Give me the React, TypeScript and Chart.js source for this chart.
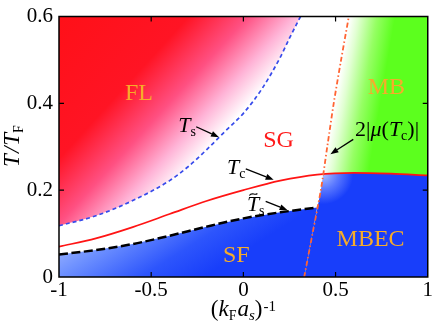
import React, { useEffect, useRef } from 'react';
import { Chart, registerables } from 'chart.js';

Chart.register(...registerables);

const FONT = "'Liberation Serif', 'Times New Roman', Times, serif";

// T_s (blue dashed) – boundary of the FL region
const TS_X = [-1, -0.8, -0.6, -0.4, -0.3, -0.2, -0.1, 0, 0.1, 0.2, 0.25, 0.31];
const TS_T = [0.118, 0.141, 0.176, 0.222, 0.254, 0.293, 0.335, 0.377, 0.433, 0.506, 0.55, 0.6];
// T_c (red solid)
const TC_X = [-1, -0.8, -0.6, -0.4, -0.2, 0, 0.2, 0.4, 0.6, 0.8, 1];
const TC_T = [0.07, 0.089, 0.115, 0.145, 0.175, 0.2, 0.222, 0.236, 0.24, 0.238, 0.234];
// tilde T_s (black dashed) – top of SF region
const TST_X = [-1, -0.8, -0.6, -0.4, -0.2, 0, 0.2, 0.4];
const TST_T = [0.052, 0.062, 0.076, 0.095, 0.116, 0.135, 0.149, 0.16];
// 2|mu(T_c)| (orange dash-dot)
const MU_T = [0, 0.1, 0.2, 0.3, 0.4, 0.5, 0.6];
const MU_X = [0.33, 0.375, 0.42, 0.455, 0.49, 0.53, 0.572];

const X_TICKS = [-1, -0.5, 0, 0.5, 1];
const X_LABELS = ['-1', '-0.5', '0', '0.5', '1'];
const Y_TICKS = [0, 0.2, 0.4, 0.6];
const Y_LABELS = ['0', '0.2', '0.4', '0.6'];

const REGION_NAMES = ['FL', 'SG', 'MB', 'MBEC', 'SF'];
const REGION_X = [-0.566, 0.191, 0.776, 0.69, -0.038];
const REGION_T = [0.423, 0.315, 0.435, 0.086, 0.048];
const REGION_COLORS = ['#F6AC2A', '#FF1A1A', '#F6AC2A', '#F6AC2A', '#F6AC2A'];

const BLUE = 'rgb(24,62,250)';
const GREEN = 'rgb(92,255,30)';

function interp(xs: number[], ys: number[], x: number) {
  if (x <= xs[0]) return ys[0];
  for (let i = 0; i < xs.length - 1; i++) {
    if (x <= xs[i + 1]) {
      const f = (x - xs[i]) / (xs[i + 1] - xs[i]);
      return ys[i] + f * (ys[i + 1] - ys[i]);
    }
  }
  return ys[ys.length - 1];
}

function crossing() {
  for (let i = 0; i < MU_T.length - 1; i++) {
    const d0 = MU_T[i] - interp(TC_X, TC_T, MU_X[i]);
    const d1 = MU_T[i + 1] - interp(TC_X, TC_T, MU_X[i + 1]);
    if (d0 <= 0 && d1 > 0) {
      let a = 0, b = 1, x = MU_X[i], t = MU_T[i];
      for (let k = 0; k < 40; k++) {
        const m = (a + b) / 2;
        x = MU_X[i] + m * (MU_X[i + 1] - MU_X[i]);
        t = MU_T[i] + m * (MU_T[i + 1] - MU_T[i]);
        if (t - interp(TC_X, TC_T, x) <= 0) a = m; else b = m;
      }
      return { x, y: t };
    }
  }
  return { x: 0.43, y: 0.237 };
}

const pts = (xs: number[], ys: number[]) => xs.map((x, i) => ({ x, y: ys[i] }));

function buildPolys() {
  const C = crossing();
  const mu = pts(MU_X, MU_T);
  const tc = pts(TC_X, TC_T);
  const mb = [C, ...mu.filter((p) => p.y > C.y), { x: 1, y: 0.6 }, ...tc.filter((p) => p.x > C.x).reverse()];
  const mbec = [C, ...tc.filter((p) => p.x > C.x), { x: 1, y: 0 }, ...mu.filter((p) => p.y < C.y)];
  const tEnd = TST_T[TST_T.length - 1];
  const sf = [
    ...pts(TST_X, TST_T),
    { x: interp(MU_T, MU_X, tEnd), y: tEnd },
    ...mu.filter((p) => p.y < tEnd).reverse(),
    { x: -1, y: 0 },
  ];
  return { C, mb, mbec, sf };
}

type Piece = { t: string; size: number; italic?: boolean; dy?: number; dx?: number };

function richWidth(ctx: CanvasRenderingContext2D, pieces: Piece[]) {
  let w = 0;
  for (const p of pieces) {
    ctx.font = `${p.italic ? 'italic ' : ''}${p.size}px ${FONT}`;
    w += ctx.measureText(p.t).width + (p.dx || 0);
  }
  return w;
}

function drawRich(ctx: CanvasRenderingContext2D, x: number, y: number, pieces: Piece[], color: string) {
  let cx = x;
  ctx.fillStyle = color;
  ctx.textAlign = 'left';
  ctx.textBaseline = 'alphabetic';
  for (const p of pieces) {
    ctx.font = `${p.italic ? 'italic ' : ''}${p.size}px ${FONT}`;
    cx += p.dx || 0;
    ctx.fillText(p.t, cx, y + (p.dy || 0));
    cx += ctx.measureText(p.t).width;
  }
}

function arrow(ctx: CanvasRenderingContext2D, x0: number, y0: number, x1: number, y1: number) {
  const ang = Math.atan2(y1 - y0, x1 - x0);
  const hl = 8, hw = 3;
  const bx = x1 - hl * Math.cos(ang), by = y1 - hl * Math.sin(ang);
  ctx.strokeStyle = '#000';
  ctx.fillStyle = '#000';
  ctx.lineWidth = 1.3;
  ctx.setLineDash([]);
  ctx.beginPath();
  ctx.moveTo(x0, y0);
  ctx.lineTo(bx, by);
  ctx.stroke();
  ctx.beginPath();
  ctx.moveTo(x1, y1);
  ctx.lineTo(bx + hw * Math.sin(ang), by - hw * Math.cos(ang));
  ctx.lineTo(bx - hw * Math.sin(ang), by + hw * Math.cos(ang));
  ctx.closePath();
  ctx.fill();
}

const decor = {
  id: 'decor',
  afterDatasetsDraw(chart: any) {
    const { ctx, chartArea: a, scales } = chart;
    const X = (v: number) => scales.x.getPixelForValue(v);
    const Y = (v: number) => scales.y.getPixelForValue(v);
    ctx.save();
    ctx.setLineDash([]);
    ctx.strokeStyle = '#000';
    ctx.lineWidth = 1.5;
    ctx.strokeRect(a.left, a.top, a.right - a.left, a.bottom - a.top);
    ctx.lineWidth = 1.2;
    ctx.beginPath();
    X_TICKS.slice(1, -1).forEach((v) => {
      const px = X(v);
      ctx.moveTo(px, a.bottom); ctx.lineTo(px, a.bottom - 5);
      ctx.moveTo(px, a.top); ctx.lineTo(px, a.top + 5);
    });
    Y_TICKS.slice(1, -1).forEach((v) => {
      const py = Y(v);
      ctx.moveTo(a.left, py); ctx.lineTo(a.left + 5, py);
      ctx.moveTo(a.right, py); ctx.lineTo(a.right - 5, py);
    });
    ctx.stroke();

    ctx.textAlign = 'center';
    ctx.textBaseline = 'middle';
    ctx.font = `24px ${FONT}`;
    REGION_NAMES.forEach((n, i) => {
      ctx.fillStyle = REGION_COLORS[i];
      ctx.fillText(n, X(REGION_X[i]), Y(REGION_T[i]));
    });

    drawRich(ctx, X(-0.353), Y(0.333), [
      { t: 'T', size: 22, italic: true },
      { t: 's', size: 14, dy: 4 },
    ], '#000');
    arrow(ctx, X(-0.256), Y(0.346), X(-0.132), Y(0.322));

    drawRich(ctx, X(-0.089), Y(0.238), [
      { t: 'T', size: 22, italic: true },
      { t: 'c', size: 14, dy: 4 },
    ], '#000');
    arrow(ctx, X(0.013), Y(0.249), X(0.164), Y(0.224));

    const tx = X(0.019), ty = Y(0.152);
    drawRich(ctx, tx, ty, [
      { t: 'T', size: 22, italic: true },
      { t: 's', size: 14, dy: 4 },
    ], '#000');
    ctx.strokeStyle = '#000';
    ctx.lineWidth = 1.1;
    ctx.beginPath();
    ctx.moveTo(tx + 2.5, ty - 15.5);
    ctx.bezierCurveTo(tx + 5, ty - 19.5, tx + 8, ty - 15, tx + 10.5, ty - 17.5);
    ctx.stroke();
    arrow(ctx, X(0.121), Y(0.174), X(0.24), Y(0.154));

    drawRich(ctx, X(0.606), Y(0.324), [
      { t: '2|', size: 22 },
      { t: 'μ', size: 22, italic: true },
      { t: '(', size: 22 },
      { t: 'T', size: 22, italic: true },
      { t: 'c', size: 14, dy: 4 },
      { t: ')|', size: 22 },
    ], '#000');
    arrow(ctx, X(0.596), Y(0.317), X(0.472), Y(0.283));

    const xt: Piece[] = [
      { t: '(', size: 23 },
      { t: 'k', size: 23, italic: true },
      { t: 'F', size: 14, dy: 4 },
      { t: 'a', size: 23, italic: true, dx: 1 },
      { t: 's', size: 15, italic: true, dy: 4 },
      { t: ')', size: 23 },
      { t: '-1', size: 15, dy: -5, dx: 1 },
    ];
    const xw = richWidth(ctx, xt);
    drawRich(ctx, (a.left + a.right) / 2 - xw / 2, 316, xt, '#000');

    const yt: Piece[] = [
      { t: 'T', size: 23, italic: true },
      { t: '/', size: 23, italic: true, dx: 1 },
      { t: 'T', size: 23, italic: true, dx: 1 },
      { t: 'F', size: 14, dy: 4 },
    ];
    const yw = richWidth(ctx, yt);
    ctx.save();
    ctx.translate(19, 146);
    ctx.rotate(-Math.PI / 2);
    drawRich(ctx, -yw / 2, 0, yt, '#000');
    ctx.restore();

    ctx.restore();
  },
};

function px(c: any, x: number, y: number) {
  const s = c.chart && c.chart.scales;
  if (!s || !s.x || !s.y) return null;
  const a = s.x.getPixelForValue(x), b = s.y.getPixelForValue(y);
  if (!isFinite(a) || !isFinite(b)) return null;
  return [a, b];
}

function flFill(c: any) {
  const p0 = px(c, -1, 0.6), p1 = px(c, -0.2, 0.29);
  if (!p0 || !p1) return 'rgb(255,16,24)';
  const g = c.chart.ctx.createLinearGradient(p0[0], p0[1], p1[0], p1[1]);
  g.addColorStop(0, 'rgb(255,16,24)');
  g.addColorStop(0.48, 'rgb(255,20,36)');
  g.addColorStop(0.7, 'rgb(255,80,130)');
  g.addColorStop(0.87, 'rgb(255,180,215)');
  g.addColorStop(1, 'rgb(255,255,255)');
  return g;
}

function mbFill(c: any) {
  const p0 = px(c, MU_X[0], MU_T[0]);
  const p1 = px(c, MU_X[MU_X.length - 1], MU_T[MU_T.length - 1]);
  const ps = px(c, interp(MU_T, MU_X, 0.3), 0.3);
  if (!p0 || !p1 || !ps) return GREEN;
  const L = Math.hypot(p1[0] - p0[0], p1[1] - p0[1]);
  const nx = -(p1[1] - p0[1]) / L, ny = (p1[0] - p0[0]) / L;
  const w = 45;
  const g = c.chart.ctx.createLinearGradient(ps[0], ps[1], ps[0] + nx * w, ps[1] + ny * w);
  g.addColorStop(0, 'rgb(255,255,255)');
  g.addColorStop(0.2, 'rgb(225,255,210)');
  g.addColorStop(0.6, 'rgb(150,255,100)');
  g.addColorStop(1, GREEN);
  return g;
}

function mbecFill(c: any) {
  const C = crossing();
  const p = px(c, C.x, C.y);
  if (!p) return BLUE;
  const g = c.chart.ctx.createRadialGradient(p[0], p[1], 0, p[0], p[1], 30);
  g.addColorStop(0, 'rgb(170,190,255)');
  g.addColorStop(0.5, 'rgb(90,120,255)');
  g.addColorStop(1, BLUE);
  return g;
}

function sfFill(c: any) {
  const p = px(c, -1, 0.095);
  if (!p) return BLUE;
  const g = c.chart.ctx.createLinearGradient(p[0], p[1], p[0] + 60, p[1] + 95);
  g.addColorStop(0, 'rgb(165,188,255)');
  g.addColorStop(0.3, 'rgb(110,145,255)');
  g.addColorStop(0.7, 'rgb(45,85,252)');
  g.addColorStop(1, BLUE);
  return g;
}

export default function App() {
  const ref = useRef<HTMLCanvasElement>(null);
  useEffect(() => {
    document.body.style.margin = '0';
    const canvas = ref.current;
    if (!canvas) return;
    const { mb, mbec, sf } = buildPolys();
    const poly = (data: any[], bg: any) => ({
      data,
      fill: 'shape',
      backgroundColor: bg,
      borderColor: 'rgba(0,0,0,0)',
      borderWidth: 0,
      pointRadius: 0,
      tension: 0,
      order: 10,
    });
    const chart = new Chart(canvas, {
      type: 'line',
      data: {
        datasets: [
          {
            data: pts(TS_X, TS_T),
            borderColor: 'rgb(55,75,235)',
            borderWidth: 1.7,
            borderDash: [4, 3],
            fill: 'end',
            backgroundColor: flFill,
            pointRadius: 0,
            cubicInterpolationMode: 'monotone',
            order: 3,
          },
          {
            data: pts(TC_X, TC_T),
            borderColor: 'rgb(255,20,20)',
            borderWidth: 1.7,
            fill: false,
            pointRadius: 0,
            cubicInterpolationMode: 'monotone',
            order: 1,
          },
          {
            data: pts(TST_X, TST_T),
            borderColor: '#000',
            borderWidth: 2.5,
            borderDash: [9, 3.5],
            fill: false,
            pointRadius: 0,
            cubicInterpolationMode: 'monotone',
            order: 2,
          },
          {
            data: pts(MU_X, MU_T),
            borderColor: 'rgb(255,100,50)',
            borderWidth: 1.8,
            borderDash: [5, 2.5, 1.5, 2.5],
            fill: false,
            pointRadius: 0,
            tension: 0.3,
            order: 0,
          },
          poly(mb, mbFill),
          poly(mbec, mbecFill),
          poly(sf, sfFill),
        ] as any,
      },
      options: {
        responsive: false,
        animation: false,
        devicePixelRatio: 1,
        layout: { padding: { top: 12, right: 6, left: 0, bottom: 0 } },
        plugins: {
          legend: { display: false },
          tooltip: { enabled: false },
          filler: { drawTime: 'beforeDatasetsDraw' },
        } as any,
        scales: {
          x: {
            type: 'linear',
            min: -1,
            max: 1,
            grid: { display: false, drawTicks: false },
            border: { display: false },
            afterBuildTicks: (sc: any) => { sc.ticks = X_TICKS.map((v) => ({ value: v })); },
            afterFit: (sc: any) => { sc.height = 58; },
            ticks: {
              color: '#000',
              padding: 3,
              maxRotation: 0,
              autoSkip: false,
              font: { family: FONT, size: 21, lineHeight: 1 },
              callback: (_v: any, i: number) => X_LABELS[i],
            },
          },
          y: {
            type: 'linear',
            min: 0,
            max: 0.6,
            grid: { display: false, drawTicks: false },
            border: { display: false },
            afterBuildTicks: (sc: any) => { sc.ticks = Y_TICKS.map((v) => ({ value: v })); },
            afterFit: (sc: any) => { sc.width = 59; },
            ticks: {
              color: '#000',
              padding: 6,
              autoSkip: false,
              font: { family: FONT, size: 21, lineHeight: 1 },
              callback: (_v: any, i: number) => Y_LABELS[i],
            },
          },
        } as any,
      },
      plugins: [decor],
    });
    chart.update();
    return () => chart.destroy();
  }, []);
  return (
    <div style={{ width: 436, height: 335 }}>
      <canvas ref={ref} width={436} height={335} style={{ display: 'block' }} />
    </div>
  );
}
